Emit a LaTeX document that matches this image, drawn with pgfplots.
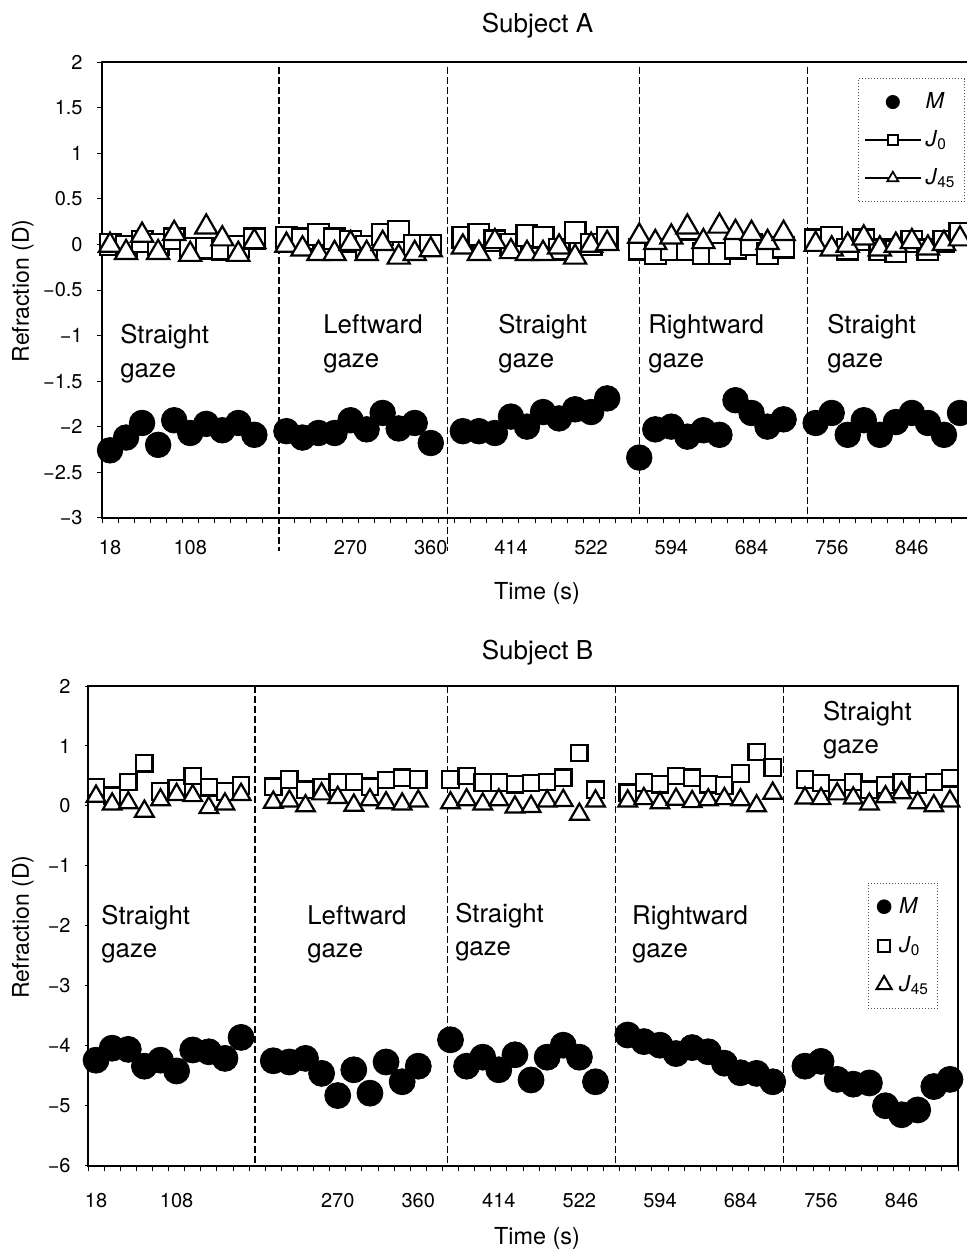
\documentclass[border=0pt]{standalone}
\usepackage{fontspec}
\setmainfont{TeX Gyre Heros}
\usepackage{pgfplots}
\pgfplotsset{compat=1.18}

\pgfplotsset{
  panel/.style={
    scale only axis, clip=false, anchor=south west,
    xmin=0.5, xmax=54.5,
    axis line style={line width=1pt},
    tick align=outside, tick pos=left,
    xtick={1,6,16,21,26,31,36,41,46,51},
    xticklabels={18,108,270,360,414,522,594,684,756,846},
    minor xtick={0.5,1.5,...,54.5},
    major x tick style={draw=none},
    minor tick length=2.8pt, major tick length=2.5pt,
    tick style={black, line width=0.5pt},
    tick label style={font=\fontsize{10}{12}\selectfont, inner sep=0pt},
    yticklabel style={anchor=east, xshift=-7pt},
  },
  mM/.style={only marks, mark=*, black, forget plot},
  mJ/.style={only marks, black, mark options={fill=white, line width=1.1pt}, forget plot},
  vsep/.style={black, line width=0.65pt, dash pattern=on 3.5pt off 1.5pt, forget plot},
}
\tikzset{gz/.style={anchor=base west, inner sep=0pt, font=\fontsize{12.9}{15}\selectfont}}

\begin{document}
\begin{tikzpicture}
\useasboundingbox (0pt,0pt) rectangle (483.5pt,-625.5pt);

% ---------------- Subject A ----------------
\begin{axis}[panel, at={(51pt,-258.85pt)}, width=433pt, height=227.7pt,
  ymin=-3, ymax=2,
  ytick={-3,-2.5,-2,-1.5,-1,-0.5,0,0.5,1,1.5,2},
  yticklabels={−3,−2.5,−2,−1.5,−1,−0.5,0,0.5,1,1.5,2},
  xticklabel style={anchor=north, yshift=-8.5pt},
  legend style={at={(rel axis cs:0.9965,0.9655)}, anchor=north east,
    draw=black!70, densely dotted, line width=0.5pt, fill=white,
    font=\fontsize{11}{13}\selectfont, row sep=5.5pt,
    inner xsep=2.5pt, inner ysep=5pt},
  legend cell align=left,
  legend image code/.code={\draw[mark repeat=2,mark phase=2,solid,draw=black,#1]
    plot coordinates {(0pt,0pt) (14pt,0pt) (28pt,0pt)};},
]
\addplot[vsep] coordinates {(11.53,1.95) (11.53,-3.37)};
\addplot[vsep] coordinates {(22.05,1.95) (22.05,-3.37)};
\addplot[vsep] coordinates {(34.0,1.95) (34.0,-3.0)};
\addplot[vsep] coordinates {(44.5,1.95) (44.5,-3.0)};

\addplot[mM, mark size=6.4pt] coordinates {
 (1,-2.26)(2,-2.12)(3,-1.96)(4,-2.20)(5,-1.93)(6,-2.07)(7,-1.97)(8,-2.04)(9,-1.96)(10,-2.09)
 (12,-2.05)(13,-2.12)(14,-2.07)(15,-2.07)(16,-1.93)(17,-2.03)(18,-1.85)(19,-2.02)(20,-1.96)(21,-2.18)
 (23,-2.05)(24,-2.05)(25,-2.07)(26,-1.89)(27,-2.00)(28,-1.84)(29,-1.91)(30,-1.81)(31,-1.84)(32,-1.69)
 (34,-2.34)(35,-2.03)(36,-2.00)(37,-2.11)(38,-2.04)(39,-2.09)(40,-1.71)(41,-1.85)(42,-2.00)(43,-1.92)
 (45,-1.96)(46,-1.85)(47,-2.09)(48,-1.93)(49,-2.09)(50,-1.95)(51,-1.85)(52,-1.96)(53,-2.09)(54,-1.85)};
\addplot[mJ, mark=square*, mark size=5.2pt] coordinates {
 (1,0.00)(2,-0.02)(3,0.03)(4,0.00)(5,0.06)(6,-0.04)(7,-0.04)(8,-0.05)(9,-0.02)(10,0.06)
 (12,0.08)(13,0.06)(14,0.11)(15,0.06)(16,0.03)(17,-0.02)(18,0.11)(19,0.14)(20,-0.01)(21,-0.01)
 (23,0.08)(24,0.11)(25,0.04)(26,0.00)(27,0.10)(28,0.08)(29,-0.05)(30,0.13)(31,0.00)(32,0.08)
 (34,-0.05)(35,-0.10)(36,-0.06)(37,-0.06)(38,-0.10)(39,-0.10)(40,-0.04)(41,0.00)(42,-0.10)(43,-0.03)
 (45,0.05)(46,0.08)(47,-0.05)(48,0.05)(49,-0.06)(50,-0.08)(51,0.03)(52,-0.06)(53,0.03)(54,0.12)};
\addplot[mJ, mark=triangle*, mark size=6.4pt] coordinates {
 (1,-0.01)(2,-0.09)(3,0.10)(4,-0.09)(5,0.12)(6,-0.11)(7,0.19)(8,0.06)(9,-0.11)(10,0.03)
 (12,-0.01)(13,-0.05)(14,-0.10)(15,-0.10)(16,0.01)(17,-0.10)(18,0.01)(19,-0.14)(20,-0.10)(21,-0.06)
 (23,-0.03)(24,-0.10)(25,0.03)(26,-0.08)(27,-0.10)(28,-0.10)(29,-0.03)(30,-0.14)(31,-0.01)(32,0.01)
 (34,0.09)(35,0.02)(36,0.08)(37,0.19)(38,0.03)(39,0.20)(40,0.13)(41,0.12)(42,0.02)(43,0.12)
 (45,0.00)(46,-0.05)(47,-0.01)(48,0.07)(49,-0.05)(50,-0.01)(51,0.03)(52,-0.04)(53,0.01)(54,0.06)};

\addlegendimage{only marks, mark=*, black, mark size=3.25pt}
\addlegendentry{\textit{M}}
\addlegendimage{black, line width=0.85pt, mark=square*, mark options={fill=white, draw=black}, mark size=2.5pt}
\addlegendentry{\textit{J}\textsubscript{0}}
\addlegendimage{black, line width=0.85pt, mark=triangle*, mark options={fill=white, draw=black}, mark size=3.2pt}
\addlegendentry{\textit{J}\textsubscript{45}}

\node[gz] at (axis cs:1.62,-1.09) {Straight};
\node[gz, yshift=-17pt] at (axis cs:1.62,-1.09) {gaze};
\node[gz] at (axis cs:14.28,-0.98) {Leftward};
\node[gz, yshift=-17pt] at (axis cs:14.28,-0.98) {gaze};
\node[gz] at (axis cs:25.19,-0.98) {Straight};
\node[gz, yshift=-17pt] at (axis cs:25.19,-0.98) {gaze};
\node[gz] at (axis cs:34.54,-0.98) {Rightward};
\node[gz, yshift=-17pt] at (axis cs:34.54,-0.98) {gaze};
\node[gz] at (axis cs:45.7,-0.98) {Straight};
\node[gz, yshift=-17pt] at (axis cs:45.7,-0.98) {gaze};
\end{axis}

% ---------------- Subject B ----------------
\begin{axis}[panel, at={(44pt,-582.85pt)}, width=435pt, height=239.85pt,
  ymin=-6, ymax=2,
  ytick={-6,-5,-4,-3,-2,-1,0,1,2},
  yticklabels={−6,−5,−4,−3,−2,−1,0,1,2},
  major tick length=1.5pt,
  xticklabel style={anchor=north, yshift=-12.2pt},
  legend style={at={(rel axis cs:0.9775,0.590)}, anchor=north east,
    draw=black!70, densely dotted, line width=0.5pt, fill=white,
    font=\fontsize{11}{13}\selectfont, row sep=6pt,
    inner xsep=2.5pt, inner ysep=5pt},
  legend cell align=left,
  legend image code/.code={\path[draw=none] (0pt,-3pt) rectangle (11pt,3pt);
    \draw[solid,draw=black,#1] plot coordinates {(5.5pt,0pt)};},
]
\addplot[vsep] coordinates {(10.86,2) (10.86,-6)};
\addplot[vsep] coordinates {(22.81,2) (22.81,-6)};
\addplot[vsep] coordinates {(33.25,2) (33.25,-6)};
\addplot[vsep] coordinates {(43.68,2) (43.68,-6)};

\addplot[mM, mark size=6.5pt] coordinates {
 (1,-4.24)(2,-4.04)(3,-4.06)(4,-4.34)(5,-4.24)(6,-4.42)(7,-4.07)(8,-4.10)(9,-4.21)(10,-3.86)
 (12,-4.25)(13,-4.27)(14,-4.21)(15,-4.46)(16,-4.83)(17,-4.40)(18,-4.79)(19,-4.27)(20,-4.60)(21,-4.34)
 (23,-3.90)(24,-4.34)(25,-4.19)(26,-4.40)(27,-4.15)(28,-4.57)(29,-4.19)(30,-3.99)(31,-4.19)(32,-4.60)
 (34,-3.82)(35,-3.93)(36,-3.99)(37,-4.13)(38,-4.03)(39,-4.10)(40,-4.29)(41,-4.45)(42,-4.46)(43,-4.60)
 (45,-4.34)(46,-4.26)(47,-4.56)(48,-4.64)(49,-4.62)(50,-5.00)(51,-5.15)(52,-5.07)(53,-4.68)(54,-4.56)};
\addplot[mJ, mark=square*, mark size=4.1pt] coordinates {
 (1,0.31)(2,0.17)(3,0.40)(4,0.71)(5,0.24)(6,0.29)(7,0.50)(8,0.31)(9,0.24)(10,0.34)
 (12,0.32)(13,0.44)(14,0.27)(15,0.31)(16,0.40)(17,0.40)(18,0.32)(19,0.43)(20,0.47)(21,0.44)
 (23,0.44)(24,0.50)(25,0.39)(26,0.39)(27,0.36)(28,0.38)(29,0.40)(30,0.47)(31,0.88)(32,0.27)
 (34,0.22)(35,0.39)(36,0.36)(37,0.50)(38,0.47)(39,0.36)(40,0.34)(41,0.54)(42,0.90)(43,0.64)
 (45,0.44)(46,0.38)(47,0.29)(48,0.40)(49,0.27)(50,0.35)(51,0.40)(52,0.35)(53,0.40)(54,0.46)};
\addplot[mJ, mark=triangle*, mark size=5.4pt] coordinates {
 (1,0.16)(2,0.03)(3,0.05)(4,-0.09)(5,0.10)(6,0.19)(7,0.17)(8,-0.03)(9,0.03)(10,0.19)
 (12,0.06)(13,0.08)(14,0.00)(15,0.20)(16,0.14)(17,0.01)(18,0.10)(19,0.05)(20,0.03)(21,0.08)
 (23,0.05)(24,0.10)(25,0.03)(26,0.10)(27,-0.02)(28,-0.01)(29,0.08)(30,0.09)(31,-0.14)(32,0.08)
 (34,0.08)(35,0.12)(36,0.05)(37,0.11)(38,0.07)(39,0.10)(40,0.12)(41,0.10)(42,0.00)(43,0.21)
 (45,0.13)(46,0.12)(47,0.20)(48,0.13)(49,0.03)(50,0.15)(51,0.22)(52,0.05)(53,0.00)(54,0.08)};

\addlegendimage{only marks, mark=*, black, mark size=3.4pt}
\addlegendentry{\textit{M}}
\addlegendimage{only marks, black, line width=1pt, mark=square*, mark options={fill=white, draw=black}, mark size=3.1pt}
\addlegendentry{\textit{J}\textsubscript{0}}
\addlegendimage{only marks, black, line width=1pt, mark=triangle*, mark options={fill=white, draw=black}, mark size=4.4pt}
\addlegendentry{\textit{J}\textsubscript{45}}

\node[gz] at (axis cs:1.31,-1.97) {Straight};
\node[gz, yshift=-16.5pt] at (axis cs:1.31,-1.97) {gaze};
\node[gz] at (axis cs:14.09,-1.97) {Leftward};
\node[gz, yshift=-16.5pt] at (axis cs:14.09,-1.97) {gaze};
\node[gz] at (axis cs:23.27,-1.94) {Straight};
\node[gz, yshift=-16.5pt] at (axis cs:23.27,-1.94) {gaze};
\node[gz] at (axis cs:34.25,-1.97) {Rightward};
\node[gz, yshift=-16.5pt] at (axis cs:34.25,-1.97) {gaze};
\node[gz] at (axis cs:46.1,1.42) {Straight};
\node[gz, yshift=-16.5pt] at (axis cs:46.1,1.42) {gaze};
\end{axis}

% titles and axis labels
\node[anchor=base, font=\fontsize{13}{15}\selectfont] at (268.75pt,-16.5pt) {Subject A};
\node[anchor=base, font=\fontsize{13}{15}\selectfont] at (268.75pt,-329.5pt) {Subject B};
\node[anchor=base, font=\fontsize{11.7}{14}\selectfont] at (268.5pt,-299.5pt) {Time (s)};
\node[anchor=base, font=\fontsize{11.7}{14}\selectfont] at (268.5pt,-622pt) {Time (s)};
\node[rotate=90, font=\fontsize{11.5}{14}\selectfont] at (11.5pt,-145.5pt) {Refraction (D)};
\node[rotate=90, font=\fontsize{11.5}{14}\selectfont] at (11.5pt,-463.5pt) {Refraction (D)};
\end{tikzpicture}
\end{document}
